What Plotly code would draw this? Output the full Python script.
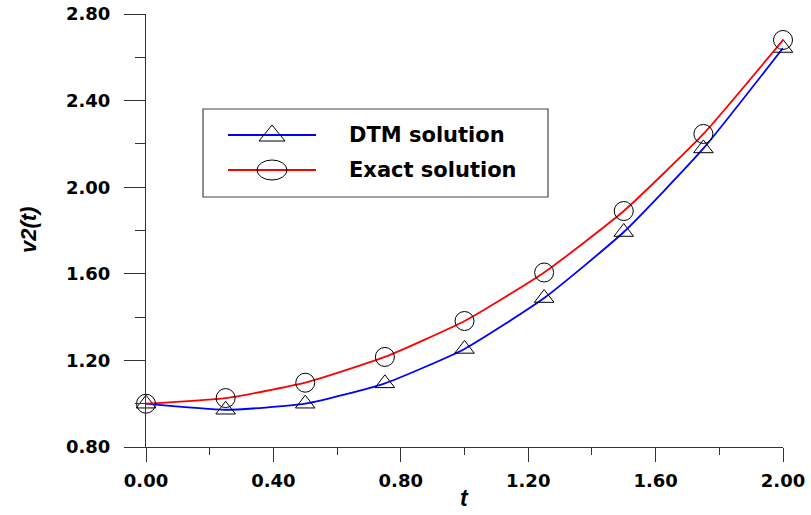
import plotly.graph_objects as go

t = [0.0, 0.25, 0.5, 0.75, 1.0, 1.25, 1.5, 1.75, 2.0]
dtm = [1.0, 0.972, 1.0, 1.094, 1.253, 1.488, 1.793, 2.179, 2.643]
exact = [1.0, 1.026, 1.097, 1.216, 1.382, 1.606, 1.890, 2.246, 2.680]
series_names = ["DTM solution", "Exact solution"]

W, H = 811, 515
L, R, T, B = 146, 28, 14, 68
PW, PH = W - L - R, H - T - B


def px(xp):
    return (xp - L) / PW


def py(yp):
    return (H - B - yp) / PH


fig = go.Figure()
fig.add_trace(go.Scatter(
    x=t, y=dtm, name=series_names[0], mode="lines+markers",
    line=dict(color="#0000ff", width=1.8, shape="spline", smoothing=0.5),
    marker=dict(symbol="triangle-up-open", size=17, color="black", line=dict(width=1, color="black")),
    cliponaxis=False, showlegend=False))
fig.add_trace(go.Scatter(
    x=t, y=exact, name=series_names[1], mode="lines+markers",
    line=dict(color="#ff0000", width=1.8, shape="spline", smoothing=0.5),
    marker=dict(symbol="circle-open", size=19, color="black", line=dict(width=1, color="black")),
    cliponaxis=False, showlegend=False))

tickfont = dict(family="DejaVu Sans", size=18, color="black", weight="bold")

fig.update_xaxes(range=[0, 2], tick0=0, dtick=0.4, tickformat=".2f", automargin=False,
                 ticks="outside", ticklen=14, tickwidth=1, tickcolor="#333",
                 showline=True, linecolor="#333", linewidth=1,
                 showgrid=False, zeroline=False, tickfont=tickfont,
                 ticklabelstandoff=3, ticklabeloverflow="allow",
                 minor=dict(dtick=0.2, ticks="outside", ticklen=7, tickcolor="#333", tickwidth=1))
fig.update_yaxes(range=[0.8, 2.8], tick0=0.8, dtick=0.4, tickformat=".2f", automargin=False,
                 ticks="outside", ticklen=21, tickwidth=1, tickcolor="#333",
                 showline=True, linecolor="#333", linewidth=1,
                 showgrid=False, zeroline=False, tickfont=tickfont,
                 ticklabelstandoff=10, ticklabeloverflow="allow",
                 minor=dict(dtick=0.2, ticks="outside", ticklen=10, tickcolor="#333", tickwidth=1))

shapes = []
annotations = []
# legend box
shapes.append(dict(type="rect", xref="paper", yref="paper",
                   x0=px(203), x1=px(548), y0=py(197), y1=py(109),
                   line=dict(color="#444", width=1.2), fillcolor="white", layer="above"))
legend_rows = [(135, "#0000ff", "tri"), (170, "#ff0000", "circ")]
for (yy, col, sym), name in zip(legend_rows, series_names):
    shapes.append(dict(type="line", xref="paper", yref="paper",
                       x0=px(228), x1=px(316), y0=py(yy), y1=py(yy),
                       line=dict(color=col, width=1.8), layer="above"))
    if sym == "tri":
        path = "M {} {} L {} {} L {} {} Z".format(px(259), py(yy + 6), px(285), py(yy + 6), px(272), py(yy - 10))
        shapes.append(dict(type="path", xref="paper", yref="paper", path=path,
                           line=dict(color="black", width=1), layer="above"))
    else:
        shapes.append(dict(type="circle", xref="paper", yref="paper",
                           x0=px(257), x1=px(287), y0=py(yy + 10), y1=py(yy - 10),
                           line=dict(color="black", width=1), layer="above"))
    annotations.append(dict(xref="paper", yref="paper", x=px(347), y=py(yy),
                            xanchor="left", yanchor="middle", showarrow=False, text=name,
                            font=dict(family="DejaVu Sans", size=21, color="black", weight="bold")))

annotations.append(dict(xref="paper", yref="paper", x=px(29), y=py(230), textangle=-90,
                        xanchor="center", yanchor="middle", showarrow=False, text="<b><i>v2(t)</i></b>",
                        font=dict(family="Liberation Sans", size=22, color="black")))
annotations.append(dict(xref="paper", yref="paper", x=px(464), y=py(498),
                        xanchor="center", yanchor="middle", showarrow=False, text="<b><i>t</i></b>",
                        font=dict(family="Liberation Sans", size=23, color="black")))

fig.update_layout(width=W, height=H, margin=dict(l=L, r=R, t=T, b=B, autoexpand=False),
                  plot_bgcolor="white", paper_bgcolor="white",
                  shapes=shapes, annotations=annotations, showlegend=False)
fig.write_html("out.html", config={"displayModeBar": False, "staticPlot": True},
               post_script="document.body.style.margin='0';document.body.style.overflow='hidden';")
